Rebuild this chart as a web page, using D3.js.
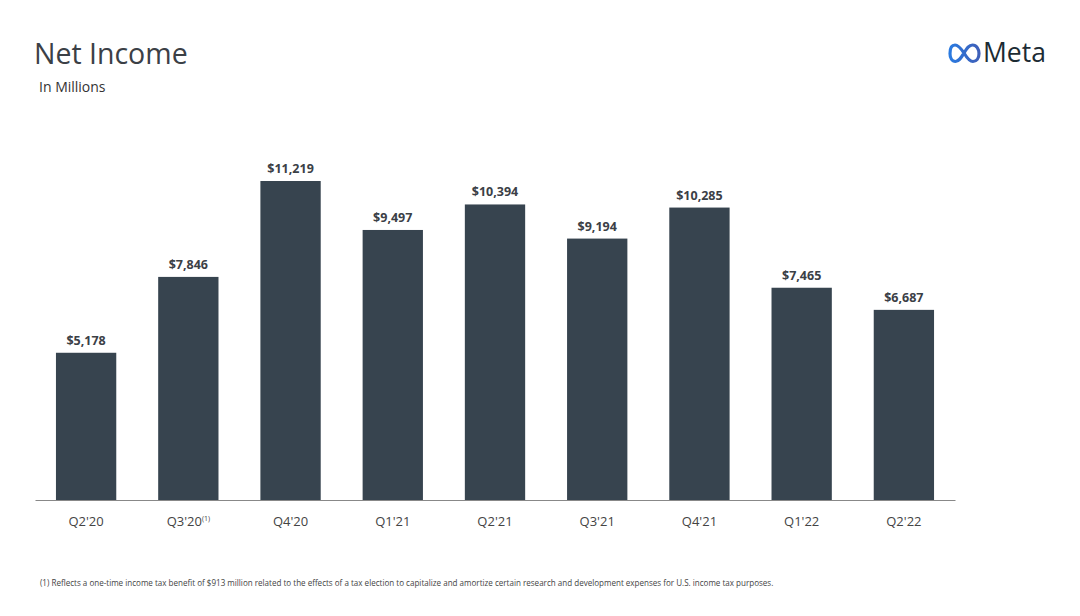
<!DOCTYPE html>
<html>
<head>
  <meta charset="utf-8">
  <script src="https://cdn.jsdelivr.net/npm/d3@7"></script>
  <style>
    body { margin: 0; background: #fff; }
    svg { display: block; font-family: "Open Sans", "Noto Sans", sans-serif; }
  </style>
</head>
<body>
<script>
  var quarters = ["Q2'20", "Q3'20", "Q4'20", "Q1'21", "Q2'21", "Q3'21", "Q4'21", "Q1'22", "Q2'22"]
  var netIncome = [5178, 7846, 11219, 9497, 10394, 9194, 10285, 7465, 6687]
  var footnoteMark = ["", "(1)", "", "", "", "", "", "", ""]
  var footnote = "(1) Reflects a one-time income tax benefit of $913 million related to the effects of a tax election to capitalize and amortize certain research and development expenses for U.S. income tax purposes."

  var width = 1080, height = 616
  var svg = d3.select("body").append("svg")
              .attr("width", width)
              .attr("height", height)

  var x = d3.scaleBand()
            .domain(quarters)
            .range([35, 955])
            .paddingInner(0.41)
            .paddingOuter(0.205)

  var y = d3.scaleLinear()
            .domain([0, 11219])
            .range([500, 181])

  // title
  svg.append("text")
     .attr("x", 34).attr("y", 64)
     .attr("fill", "#3b4046")
     .style("font-size", "28.5px")
     .text("Net Income")

  svg.append("text")
     .attr("x", 39).attr("y", 92)
     .attr("fill", "#333")
     .style("font-size", "14px")
     .text("In Millions")

  // meta logo
  var defs = svg.append("defs")
  var grad = defs.append("linearGradient").attr("id", "metaGrad")
                 .attr("x1", "0").attr("x2", "1")
  grad.append("stop").attr("offset", "0").attr("stop-color", "#2a7ae0")
  grad.append("stop").attr("offset", "1").attr("stop-color", "#3e5fb8")

  var logo = svg.append("g").attr("transform", "translate(949, 44)")
  logo.append("path")
      .attr("d", "M15,9 C11,3 8,1 6,1 C2.5,1 1,5 1,9.5 C1,14 3,17.5 6.5,17.5 C10,17.5 12,14 15,9 C18,4 20,1 23.5,1 C27.5,1 30,5 30,9.5 C30,14.5 27.5,17.5 24,17.5 C20.5,17.5 18,14 15,9 Z")
      .attr("fill", "none")
      .attr("stroke", "url(#metaGrad)")
      .attr("stroke-width", 3.2)
  svg.append("text")
     .attr("x", 983).attr("y", 62)
     .attr("fill", "#1c2b33")
     .style("font-size", "26.5px")
     .style("font-weight", "500")
     .text("Meta")

  var g = svg.append("g")

  g.selectAll("rect")
   .data(netIncome)
   .enter()
   .append("rect")
   .attr("x", function(d, i) { return x(quarters[i]) })
   .attr("y", function(d) { return y(d) })
   .attr("width", x.bandwidth())
   .attr("height", function(d) { return y(0) - y(d) })
   .attr("fill", "#37444f")

  g.selectAll(".val")
   .data(netIncome)
   .enter()
   .append("text")
   .attr("class", "val")
   .attr("x", function(d, i) { return x(quarters[i]) + x.bandwidth() / 2 })
   .attr("y", function(d) { return y(d) - 8 })
   .attr("text-anchor", "middle")
   .attr("fill", "#3b4046")
   .style("font-size", "12.5px")
   .style("font-weight", "bold")
   .text(function(d) { return "$" + d3.format(",")(d) })

  // axis
  var axis = d3.axisBottom(x).tickSize(0).tickPadding(12).tickFormat("")
  var ax = svg.append("g")
              .attr("transform", "translate(0,500)")
              .call(axis)
  ax.select(".domain").attr("stroke", "#888").attr("stroke-width", 1.2)

  var lab = svg.selectAll(".cat")
     .data(quarters)
     .enter()
     .append("text")
     .attr("class", "cat")
     .attr("x", function(d) { return x(d) + x.bandwidth() / 2 })
     .attr("y", 526)
     .attr("text-anchor", "middle")
     .attr("fill", "#444")
     .style("font-size", "13px")
  lab.append("tspan").text(function(d) { return d })
  lab.append("tspan")
     .attr("dy", -5)
     .style("font-size", "7px")
     .text(function(d, i) { return footnoteMark[i] })

  svg.append("text")
     .attr("x", 40).attr("y", 586)
     .attr("fill", "#444")
     .style("font-size", "8.05px")
     .text(footnote)
</script>
</body>
</html>
